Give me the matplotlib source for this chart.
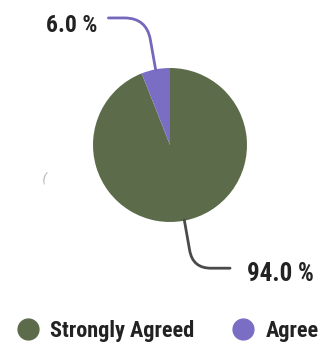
import numpy as np
import matplotlib.pyplot as plt
from matplotlib.lines import Line2D
from matplotlib import font_manager

labels = ['Strongly Agreed', 'Agree']
values = [94.0, 6.0]
colors = ['#5c6c4b', '#7a6ec4']
line_colors = ['#4a4a4a', '#7468bc']

names = {f.name for f in font_manager.fontManager.ttflist}
cond = [n for n in ['Roboto Condensed', 'Liberation Sans Narrow', 'Roboto'] if n in names]
plt.rcParams['font.family'] = cond + ['DejaVu Sans']

fig = plt.figure(figsize=(3.26, 3.48), dpi=100)
ax = fig.add_axes([0, 0, 1, 1])

wedges, _ = ax.pie(values, colors=colors, startangle=90, counterclock=False,
                   radius=1.0, wedgeprops=dict(linewidth=0))

# pie centre at (170, 145) px, radius 77 px
r_px = 77.0
ax.set_aspect('equal')
ax.set_xlim(-170 / r_px, (326 - 170) / r_px)
ax.set_ylim(-(348 - 145) / r_px, 145 / r_px)
ax.axis('off')

# label positions (axes units, radius = 1)
label_pos = [(1.00, -1.67), (-0.94, 1.55)]
line_start = [(0.78, -1.60), (-0.80, 1.65)]
text_ha = ['left', 'right']
conn = ['angle,angleA=180,angleB=-80,rad=18', 'angle,angleA=0,angleB=100,rad=22']

for i, w in enumerate(wedges):
    mid = np.deg2rad((w.theta1 + w.theta2) / 2)
    pt = (np.cos(mid) * 0.99, np.sin(mid) * 0.99)
    ax.annotate('', xy=pt, xytext=line_start[i],
                arrowprops=dict(arrowstyle='-', color=line_colors[i], lw=2.0,
                                connectionstyle=conn[i], shrinkA=0, shrinkB=0))
    ax.text(label_pos[i][0], label_pos[i][1], '%.1f %%' % values[i], ha=text_ha[i],
            va='center', fontsize=18 if i == 0 else 17, fontweight='bold', color='#222222')

ax.text(-1.68, -0.48, '(', fontsize=9, color='#b0b0b0', rotation=-15)

handles = [Line2D([], [], marker='o', linestyle='', markersize=15, markerfacecolor=c,
                  markeredgecolor=c) for c in colors]
fig.legend(handles, labels, loc='center left', bbox_to_anchor=(17 / 326, 1 - 331 / 348), ncol=2,
           frameon=False, prop=dict(weight='bold', size=16), borderpad=0, borderaxespad=0,
           handletextpad=0.5, columnspacing=1.7, handlelength=1.0)
for t in fig.legends[0].get_texts():
    t.set_color('#222222')

fig.savefig('out.png', dpi=100, facecolor='white')
